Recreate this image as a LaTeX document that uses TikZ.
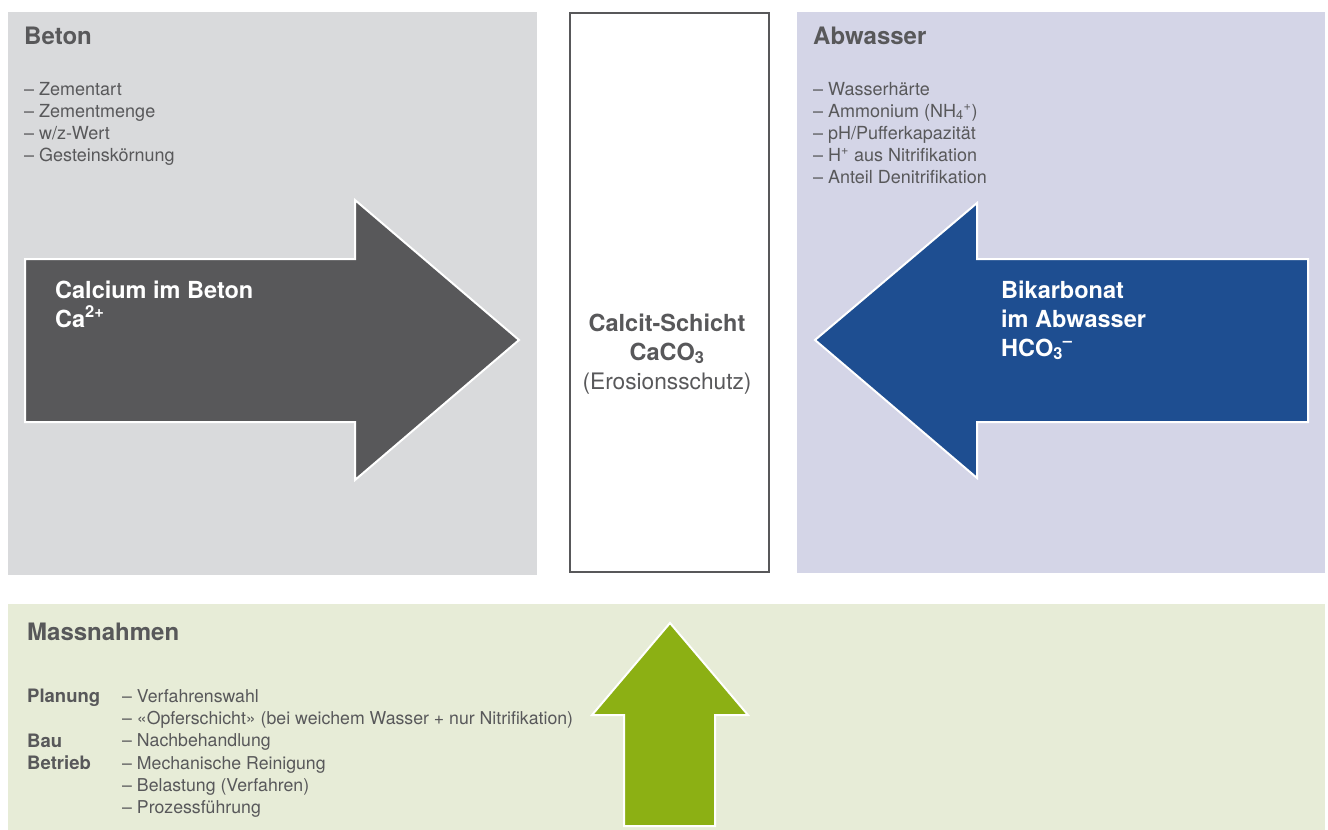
\documentclass[tikz,border=0pt]{standalone}
\usepackage{fontspec}
\setmainfont{TeX Gyre Heros}
\usetikzlibrary{positioning}

\definecolor{textgrey}{HTML}{58585A}
\definecolor{betongrey}{HTML}{D9DADC}
\definecolor{abwasserblue}{HTML}{D4D5E7}
\definecolor{massgreen}{HTML}{E7ECD7}
\definecolor{arrowgrey}{HTML}{58585A}
\definecolor{arrowblue}{HTML}{1E4E91}
\definecolor{arrowgreen}{HTML}{8CB014}

\tikzset{panel/.style = {fill=#1, draw=none}}
\tikzset{bigarrow/.style = {fill=#1, draw=white, line width=2pt, line join=miter}}
\tikzset{heading/.style = {anchor=base west, inner sep=0, text=textgrey,
                           font=\fontsize{24}{27}\selectfont\bfseries}}
\tikzset{item/.style = {anchor=base west, inner sep=0, text=textgrey,
                        font=\fontsize{18}{22}\selectfont}}
\tikzset{itemlabel/.style = {item, font=\fontsize{18.5}{22}\selectfont\bfseries}}
\tikzset{arrowlabel/.style = {anchor=base west, inner sep=0, text=white,
                              font=\fontsize{23.5}{29}\selectfont\bfseries}}
\tikzset{layertext/.style = {anchor=base, inner sep=0, text=textgrey,
                             font=\fontsize{22.7}{29}\selectfont}}

\begin{document}
\begin{tikzpicture}[x=1pt, y=-1pt]
  \useasboundingbox (0,0) rectangle (1328,830);

  % panels
  \fill [panel=betongrey] (8,12) rectangle (537,575);
  \fill [panel=abwasserblue] (797,12) rectangle (1325,573);
  \fill [panel=massgreen] (8,604) rectangle (1325,830);

  % calcite layer in the middle
  \node [draw=textgrey, line width=2pt, fill=white, inner sep=0,
         minimum width=199, minimum height=559] (calcit) at (669.5,292) {};
  \node [layertext, font=\fontsize{23.5}{29}\selectfont\bfseries] (calcitname) at (667,331) {Calcit-Schicht};
  \node [layertext, font=\fontsize{23.5}{29}\selectfont\bfseries] (caco) at (667,360) {CaCO\textsubscript{3}};
  \node [layertext] (erosion) at (667,389) {(Erosionsschutz)};

  % Beton
  \node [heading] (beton) at (24,44) {Beton};
  \foreach \t [count=\i] in {Zementart, Zementmenge, w/z-Wert, Gesteinskörnung}
    \node [item] (beton\i) at (24,73+22*\i) {– \t};

  % Abwasser
  \node [heading] (abwasser) at (813,44) {Abwasser};
  \foreach \t [count=\i] in {Wasserhärte, Ammonium (NH\textsubscript{4}\textsuperscript{+}),
                             pH/Pufferkapazität, H\textsuperscript{+} aus Nitrifikation,
                             Anteil Denitrifikation}
    \node [item] (abwasser\i) at (813,73+22*\i) {– \t};

  % arrows
  \draw [bigarrow=arrowgrey] (25,259) -- (355,259) -- (355,200) -- (519,340)
        -- (355,480) -- (355,422) -- (25,422) -- cycle;
  \draw [bigarrow=arrowblue] (1308,259) -- (977,259) -- (977,203) -- (815,340)
        -- (977,478) -- (977,422) -- (1308,422) -- cycle;
  \draw [bigarrow=arrowgreen] (624,826) -- (624,715) -- (592,715) -- (670,623)
        -- (748,715) -- (715,715) -- (715,826) -- cycle;

  \node [arrowlabel] (calcium) at (55,298) {Calcium im Beton};
  \node [arrowlabel] (ca) at (55,327) {Ca\textsuperscript{2+}};
  \node [arrowlabel] (bikarbonat) at (1001,298) {Bikarbonat};
  \node [arrowlabel] (imabwasser) at (1001,327) {im Abwasser};
  \node [arrowlabel] (hco) at (1001,356) {HCO\textsubscript{3}\textsuperscript{–}};

  % Massnahmen
  \node [heading] (massnahmen) at (27,640) {Massnahmen};
  \node [itemlabel] (planung) at (27,702) {Planung};
  \node [itemlabel] (bau) at (27,747) {Bau};
  \node [itemlabel] (betrieb) at (27,769) {Betrieb};
  \foreach \t [count=\i] in {Verfahrenswahl,
                             «Opferschicht» (bei weichem Wasser + nur Nitrifikation),
                             Nachbehandlung, Mechanische Reinigung,
                             Belastung (Verfahren), Prozessführung}
    \node [item, font=\fontsize{17.7}{22}\selectfont] (mass\i) at (122,680+22.3*\i) {– \t};
\end{tikzpicture}
\end{document}
